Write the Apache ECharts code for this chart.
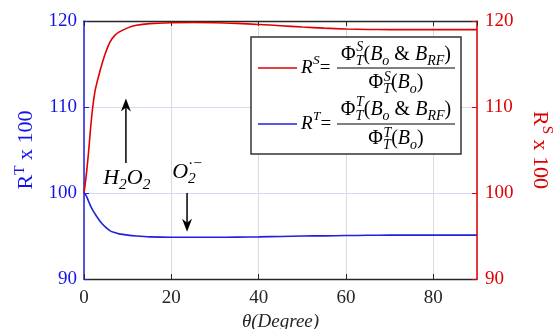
<!DOCTYPE html>
<html><head><meta charset="utf-8">
<script src="https://cdn.jsdelivr.net/npm/echarts@6/dist/echarts.min.js"></script>
<style>html,body{margin:0;padding:0;background:#fff}#c{width:553px;height:329px}</style>
</head><body><div id="c"></div>
<script>
const theta = [0,0.5,1,1.5,2,2.5,3,4,5,6,7,8,10,12,15,20,25,30,35,40,45,50,55,60,65,70,75,80,85,90];
const rs = [100,102,104.5,107.5,110,111.8,112.9,114.8,116.4,117.6,118.3,118.7,119.2,119.5,119.7,119.8,119.82,119.8,119.72,119.6,119.45,119.3,119.17,119.07,119.02,119.0,119.0,119.0,119.0,119.0];
const rt = [100,99.7,99.1,98.5,98.0,97.6,97.2,96.5,96.0,95.6,95.4,95.25,95.1,95.0,94.9,94.85,94.85,94.85,94.87,94.9,94.95,95.0,95.02,95.05,95.08,95.1,95.1,95.1,95.1,95.1];
const xTicks = {min:0, max:90, interval:20};
const yTicks = {min:90, max:120, interval:10};

const FF = 'Liberation Serif';
const BLUE = '#2020dd', RED = '#e00000', BLUE_T = '#1414e6', RED_T = '#e00000';
const chart = echarts.init(document.getElementById('c'));

chart.setOption({
  animation:false,
  backgroundColor:'#fff',
  textStyle:{fontFamily:FF},
  grid:{left:84, right:76, top:21, bottom:50, containLabel:false, outerBoundsMode:'none'},
  xAxis:[{
    type:'value', position:'bottom', min:xTicks.min, max:xTicks.max, interval:xTicks.interval,
    axisLine:{show:true, onZero:false, lineStyle:{color:'#262626', width:1.3}},
    axisTick:{inside:true, length:5, lineStyle:{color:'#262626'}},
    axisLabel:{fontFamily:FF, fontSize:19, color:'#262626', margin:10, showMaxLabel:false},
    splitLine:{show:true, lineStyle:{color:'#dcdcdc', width:1}},
    name:'θ(Degree)', nameLocation:'middle', nameGap:30,
    nameTextStyle:{fontFamily:FF, fontSize:19, fontStyle:'italic', color:'#262626'}
  },{
    type:'value', position:'top', min:xTicks.min, max:xTicks.max, interval:xTicks.interval,
    axisLine:{show:true, onZero:false, lineStyle:{color:'#262626', width:1.3}},
    axisTick:{inside:true, length:5, lineStyle:{color:'#262626'}},
    axisLabel:{show:false}, splitLine:{show:false}
  }],
  yAxis:[{
    type:'value', position:'left', min:yTicks.min, max:yTicks.max, interval:yTicks.interval,
    axisLine:{show:true, onZero:false, lineStyle:{color:BLUE, width:1.5}},
    axisTick:{inside:true, length:5, lineStyle:{color:BLUE}},
    axisLabel:{fontFamily:FF, fontSize:19, color:BLUE_T, margin:7},
    splitLine:{show:true, lineStyle:{color:'#d8d8f6', width:1}},
    name:'{m|R}{s|T}{m| x 100}', nameLocation:'middle', nameGap:46, nameRotate:90,
    nameTextStyle:{color:BLUE_T, fontFamily:FF, rich:{
      m:{fontFamily:FF, fontSize:22, color:BLUE_T, lineHeight:25, verticalAlign:'bottom'},
      s:{fontFamily:FF, fontSize:15, color:BLUE_T, lineHeight:25, verticalAlign:'top'}}}
  },{
    type:'value', position:'right', min:yTicks.min, max:yTicks.max, interval:yTicks.interval,
    axisLine:{show:true, onZero:false, lineStyle:{color:RED, width:1.5}},
    axisTick:{inside:true, length:5, lineStyle:{color:RED}},
    axisLabel:{fontFamily:FF, fontSize:19, color:RED_T, margin:8},
    splitLine:{show:false},
    name:'{m|R}{s|S}{m| x 100}', nameLocation:'middle', nameGap:52, nameRotate:-90,
    nameTextStyle:{color:RED_T, fontFamily:FF, rich:{
      m:{fontFamily:FF, fontSize:22, color:RED_T, lineHeight:25, verticalAlign:'bottom'},
      s:{fontFamily:FF, fontSize:15, color:RED_T, lineHeight:25, verticalAlign:'top'}}}
  }],
  series:[{
    type:'line', name:'RS', xAxisIndex:0, yAxisIndex:1, smooth:0.3, showSymbol:false,
    lineStyle:{color:RED, width:1.6}, data: theta.map((t,i)=>[t, rs[i]]), z:3
  },{
    type:'line', name:'RT', xAxisIndex:0, yAxisIndex:0, smooth:0.3, showSymbol:false,
    lineStyle:{color:BLUE, width:1.6}, data: theta.map((t,i)=>[t, rt[i]]), z:3
  }]
});

const cv = document.createElement('canvas').getContext('2d');
function fontStr(size, it){ return (it?'italic ':'') + size + 'px ' + FF; }
function mw(t, size, it){ cv.font = fontStr(size,it); return cv.measureText(t).width; }
function txt(t, x, y, size, it, color){
  return {type:'text', x:x, y:y, z:100, silent:true,
    style:{text:t, fontFamily:FF, fontSize:size, fontStyle: it?'italic':'normal', fill:color||'#000',
           align:'left', verticalAlign:'middle', textAlign:'left', textVerticalAlign:'middle'}};
}
function run(tokens, x, y, size, color, measureOnly, supK){
  const els = []; let cx = x; const ss = size*0.7; const k = supK || 0.38;
  tokens.forEach(tk=>{
    const it = tk.it !== undefined ? tk.it : true;
    const w = mw(tk.t, size, it);
    if(!measureOnly) els.push(txt(tk.t, cx, y, size, it, color));
    cx += w;
    let sw = 0;
    if(tk.sup){ const w2 = mw(tk.sup, ss, true); if(!measureOnly) els.push(txt(tk.sup, cx+0.5, y-size*k, ss, true, color)); sw = Math.max(sw, w2+0.5); }
    if(tk.sub){ const w2 = mw(tk.sub, ss, true); if(!measureOnly) els.push(txt(tk.sub, cx, y+size*0.3, ss, true, color)); sw = Math.max(sw, w2); }
    cx += sw;
  });
  return {els, width: cx - x};
}
function centered(tokens, cx, y, size, color, supK){
  const w = run(tokens, 0, 0, size, color, true).width;
  return run(tokens, cx - w/2, y, size, color, false, supK).els;
}
function arrow(x1, y1, x2, y2){
  const dx = x2-x1, dy = y2-y1, L = Math.hypot(dx,dy), ux = dx/L, uy = dy/L, px = -uy, py = ux;
  const hl = 13, hw = 5, notch = 4;
  const bx = x2 - ux*hl, by = y2 - uy*hl;
  return [
    {type:'line', z:100, silent:true, shape:{x1:x1, y1:y1, x2:x2-ux*6, y2:y2-uy*6}, style:{stroke:'#000', lineWidth:1.5}},
    {type:'polygon', z:100, silent:true, shape:{points:[[x2,y2],[bx+px*hw, by+py*hw],[x2-ux*(hl-notch), y2-uy*(hl-notch)],[bx-px*hw, by-py*hw]]}, style:{fill:'#000'}}
  ];
}

function drawGraphics(){
  const g = [];
  const LX = 251, LY = 37, LW = 210, LH = 117;
  g.push({type:'rect', z:90, silent:true, shape:{x:LX, y:LY, width:LW, height:LH}, style:{fill:'#fff', stroke:'#333', lineWidth:1.5}});
  const rows = [{c:RED, s:'S', ly:68, num:55, den:83}, {c:BLUE, s:'T', ly:124, num:110, den:139}];
  rows.forEach(r=>{
    g.push({type:'line', z:100, silent:true, shape:{x1:258, y1:r.ly, x2:297, y2:r.ly}, style:{stroke:r.c, lineWidth:1.6}});
    const lhs = run([{t:'R', sup:r.s}, {t:'=', it:false}], 301, r.ly, 19);
    g.push(...lhs.els);
    g.push({type:'line', z:100, silent:true, shape:{x1:337, y1:r.ly, x2:455, y2:r.ly}, style:{stroke:'#000', lineWidth:1}});
    const numT = [{t:'Φ', it:false, sub:'T', sup:r.s}, {t:'(', it:false}, {t:'B', sub:'o'}, {t:' & ', it:false}, {t:'B', sub:'RF'}, {t:')', it:false}];
    const denT = [{t:'Φ', it:false, sub:'T', sup:r.s}, {t:'(', it:false}, {t:'B', sub:'o'}, {t:')', it:false}];
    g.push(...centered(numT, 396, r.num, 20));
    g.push(...centered(denT, 396, r.den, 20, undefined, 0.3));
  });
  const p = (x,y)=>chart.convertToPixel({xAxisIndex:0, yAxisIndex:0}, [x,y]);
  const a1s = p(9.6, 103.5), a1e = p(9.6, 111.0);
  g.push(...arrow(a1s[0], a1s[1], a1e[0], a1e[1]));
  const h = p(9.8, 101.7);
  g.push(...centered([{t:'H', sub:'2'}, {t:'O', sub:'2'}], h[0], h[1], 22));
  const a2s = p(23.6, 100), a2e = p(23.6, 95.5);
  g.push(...arrow(a2s[0], a2s[1], a2e[0], a2e[1]));
  const o = p(23.7, 102.4);
  g.push(...centered([{t:'O', sub:'2', sup:'·−'}], o[0], o[1], 22));
  chart.setOption({graphic:{elements:g}});
}
drawGraphics();
</script></body></html>
